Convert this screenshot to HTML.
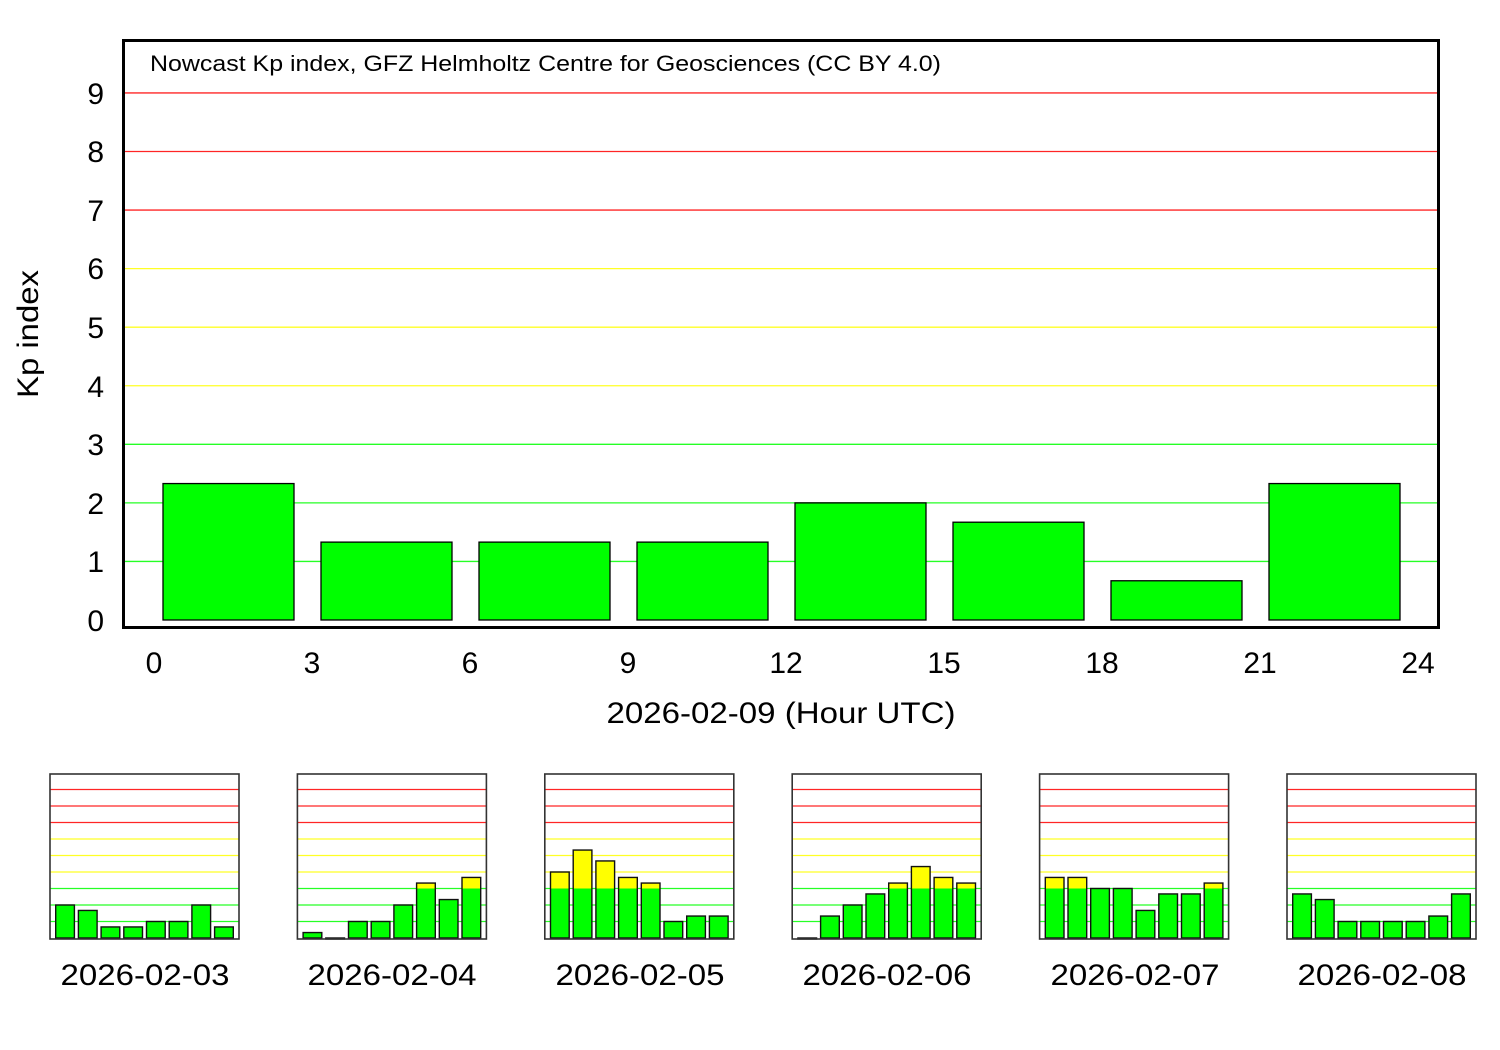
<!DOCTYPE html>
<html><head><meta charset="utf-8"><style>
html,body{margin:0;padding:0;background:#fff;}
svg{display:block;font-family:"Liberation Sans",sans-serif;}
</style></head><body>
<svg id="s" width="1500" height="1050" xmlns="http://www.w3.org/2000/svg">
<rect width="1500" height="1050" fill="#fff"/>
<g id="g"></g>
<text x="150" y="71" font-size="22" textLength="791" lengthAdjust="spacingAndGlyphs">Nowcast Kp index, GFZ Helmholtz Centre for Geosciences (CC BY 4.0)</text>
<g font-size="30" text-anchor="end">
<text x="104" y="631">0</text><text x="104" y="572">1</text><text x="104" y="514">2</text>
<text x="104" y="455">3</text><text x="104" y="397">4</text><text x="104" y="338">5</text>
<text x="104" y="279">6</text><text x="104" y="221">7</text><text x="104" y="162">8</text>
<text x="104" y="104">9</text>
</g>
<g font-size="30" text-anchor="middle">
<text x="154" y="673">0</text><text x="312" y="673">3</text><text x="470" y="673">6</text>
<text x="628" y="673">9</text><text x="786" y="673">12</text><text x="944" y="673">15</text>
<text x="1102" y="673">18</text><text x="1260" y="673">21</text><text x="1418" y="673">24</text>
<text x="781" y="723" textLength="349" lengthAdjust="spacingAndGlyphs">2026-02-09 (Hour UTC)</text>
<text x="145" y="985" textLength="169" lengthAdjust="spacingAndGlyphs">2026-02-03</text>
<text x="392" y="985" textLength="169" lengthAdjust="spacingAndGlyphs">2026-02-04</text>
<text x="640" y="985" textLength="169" lengthAdjust="spacingAndGlyphs">2026-02-05</text>
<text x="887" y="985" textLength="169" lengthAdjust="spacingAndGlyphs">2026-02-06</text>
<text x="1135" y="985" textLength="169" lengthAdjust="spacingAndGlyphs">2026-02-07</text>
<text x="1382" y="985" textLength="169" lengthAdjust="spacingAndGlyphs">2026-02-08</text>
</g>
<text transform="translate(38,334) rotate(-90)" font-size="30" text-anchor="middle" textLength="128" lengthAdjust="spacingAndGlyphs">Kp index</text>
</svg>
<script>
var g=document.getElementById('g'),h='';
function col(k){return k>=7?'#f00':(k>=4?'#ff0':'#0f0');}
var y0=620,u=58.56;
for(var k=1;k<=9;k++){var y=y0-k*u;h+='<line x1="123" x2="1439" y1="'+y+'" y2="'+y+'" stroke="'+col(k)+'" stroke-width="1.3" opacity="0.85"/>';}
var mv=[2.33,1.33,1.33,1.33,2,1.67,0.67,2.33];
for(var i=0;i<8;i++){var x=163+158*i,t=y0-mv[i]*u;
h+='<rect x="'+x+'" y="'+t+'" width="131" height="'+(mv[i]*u)+'" fill="#0f0" stroke="#000" stroke-width="1.3"/>';}
h+='<rect x="123.5" y="40.5" width="1315" height="587" fill="none" stroke="#000" stroke-width="3"/>';
var sv=[[2,1.67,.67,.67,1,1,2,.67],[.33,0,1,1,2,3.33,2.33,3.67],[4,5.33,4.67,3.67,3.33,1,1.33,1.33],
[0,1.33,2,2.67,3.33,4.33,3.67,3.33],[3.67,3.67,3,3,1.67,2.67,2.67,3.33],[2.67,2.33,1,1,1,1,1.33,2.67]];
for(var p=0;p<6;p++){var X=50+247.4*p,Z=938,su=16.5;
for(var k=1;k<=9;k++){var y=Z-k*su;h+='<line x1="'+X+'" x2="'+(X+189)+'" y1="'+y+'" y2="'+y+'" stroke="'+col(k)+'" stroke-width="1.2" opacity="0.85"/>';}
for(var i=0;i<8;i++){var v=sv[p][i],bx=X+5.7+22.7*i;
if(v>3){h+='<rect x="'+bx+'" y="'+(Z-v*su)+'" width="18.7" height="'+((v-3)*su)+'" fill="#ff0"/>';
h+='<rect x="'+bx+'" y="'+(Z-3*su)+'" width="18.7" height="'+(3*su)+'" fill="#0f0"/>';}
else h+='<rect x="'+bx+'" y="'+(Z-v*su)+'" width="18.7" height="'+(v*su)+'" fill="#0f0"/>';
h+='<rect x="'+bx+'" y="'+(Z-v*su)+'" width="18.7" height="'+Math.max(v*su,1)+'" fill="none" stroke="#111" stroke-width="1.4"/>';}
h+='<rect x="'+X+'" y="774" width="189" height="165" fill="none" stroke="#333" stroke-width="1.6"/>';}
g.innerHTML=h;
</script>
</body></html>
